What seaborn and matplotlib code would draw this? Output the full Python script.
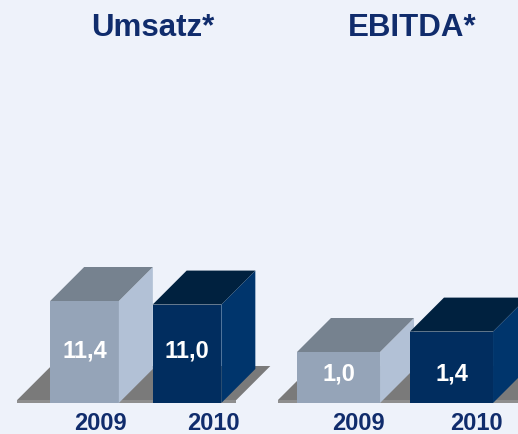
"""
Umsatz / EBITDA 2009 vs 2010 — 3-D style bar chart (seaborn bars + extruded faces)
"""

import matplotlib
matplotlib.use("Agg")
import matplotlib.pyplot as plt
from matplotlib.patches import Polygon, Rectangle
import seaborn as sns

sns.set_theme(style="white")
plt.rcParams["font.family"] = ["Liberation Sans", "DejaVu Sans"]

# ── Data ─────────────────────────────────────────────────────────────────────
years = ["2009", "2010"]
umsatz = [11.4, 11.0]
ebitda = [1.0, 1.4]
umsatz_labels = ["11,4", "11,0"]
ebitda_labels = ["1,0", "1,4"]

# ── Style ────────────────────────────────────────────────────────────────────
BG = "#EEF2FA"
NAVY = "#102C6C"
FRONT = ["#95A4B8", "#012D5F"]
SIDE = ["#B2C1D6", "#00356C"]
TOP = ["#76828F", "#00213F"]
FLOOR_TOP = "#7A7A7A"
FLOOR_EDGE = "#8E8E8E"

W, H = 518, 434
BASE = 403     # pixel row of the bar base
DEPTH = 34     # extrusion depth in pixels

# kx/ky: pixels per data unit, x0: pixel column of first bar centre
panels = [
    dict(values=umsatz, labels=umsatz_labels, title="Umsatz*",
         kx=102.5, ky=102 / 11.4, x0=84.5, width=0.67, floor=(33, 15),
         year_dx=(16, 26)),
    dict(values=ebitda, labels=ebitda_labels, title="EBITDA*",
         kx=113, ky=51, x0=338.5, width=0.735, floor=(19, 25),
         year_dx=(20, 25)),
]

fig = plt.figure(figsize=(W / 100, H / 100), dpi=100)
fig.patch.set_facecolor(BG)

for p in panels:
    ax = fig.add_axes([0, 0, 1, 1])
    ax.set_facecolor("none")
    sns.barplot(x=years, y=p["values"], hue=years, palette=FRONT,
                width=p["width"], saturation=1, legend=False,
                linewidth=0, ax=ax)
    kx, ky = p["kx"], p["ky"]
    dx, dy = DEPTH / kx, DEPTH / ky
    ax.set_xlim(-p["x0"] / kx, (W - p["x0"]) / kx)
    ax.set_ylim(-(H - BASE) / ky, BASE / ky)
    ax.axis("off")

    bars = list(ax.patches)
    w = bars[0].get_width()

    # floor slab
    left = bars[0].get_x() - p["floor"][0] / kx
    right = bars[-1].get_x() + w + p["floor"][1] / kx
    t = 3 / ky
    ax.add_patch(Polygon([(left, t), (right, t), (right + dx, t + dy),
                          (left + dx, t + dy)], closed=True,
                         facecolor=FLOOR_TOP, linewidth=0, zorder=0.5))
    ax.add_patch(Rectangle((left, 0), right - left, t,
                           facecolor=FLOOR_EDGE, linewidth=0, zorder=0.5))

    hmin = min(b.get_height() for b in bars)
    for i, b in enumerate(bars):
        x, h = b.get_x(), b.get_height()
        z = 3 + 2 * i
        b.set_zorder(z)
        ax.add_patch(Polygon([(x + w, 0), (x + w + dx, dy),
                              (x + w + dx, h + dy), (x + w, h)], closed=True,
                             facecolor=SIDE[i], linewidth=0, zorder=z + 0.5))
        ax.add_patch(Polygon([(x, h), (x + w, h), (x + w + dx, h + dy),
                              (x + dx, h + dy)], closed=True,
                             facecolor=TOP[i], linewidth=0, zorder=z + 0.5))
        ax.text(x + w / 2, hmin / 2 + 3 / ky, p["labels"][i],
                ha="center", va="center", color="white",
                fontsize=17, fontweight="bold", zorder=20)
        ax.text(x + w / 2 + p["year_dx"][i] / kx, -27 / ky, years[i],
                ha="center", va="baseline", color=NAVY,
                fontsize=17, fontweight="bold", zorder=20)

    cx = (bars[0].get_x() + bars[-1].get_x() + w + dx) / 2
    ax.text(cx, (BASE - 36) / ky, p["title"], ha="center", va="baseline",
            color=NAVY, fontsize=22.5, fontweight="bold", zorder=20)

fig.savefig("out.png", dpi=100, facecolor=BG)
